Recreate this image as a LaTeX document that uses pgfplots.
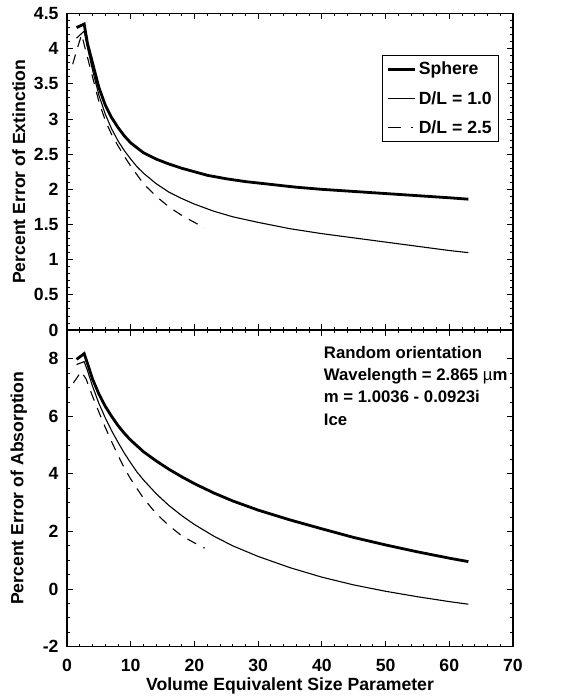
\documentclass[border=0pt]{standalone}
\usepackage{fontspec}
\setmainfont{Liberation Sans}
\usepackage{pgfplots}
\pgfplotsset{compat=1.18}

\pgfplotsset{
  panel/.style={
    width=446bp, height=316.5bp, scale only axis,
    xmin=0, xmax=70,
    xtick={0,10,...,70}, minor x tick num=4,
    major tick length=6bp, minor tick length=3bp,
    tick style={black, line width=0.8bp},
    axis line style={line width=1.6bp},
    font=\bfseries\fontsize{17.7}{21}\selectfont,
    /pgf/number format/assume math mode=true,
    yticklabel style={xshift=-5bp},
    xticklabel style={anchor=base, yshift=-25bp},
    ylabel style={at={(axis description cs:-0.108,0.5)}, anchor=center},
  },
  sphere/.style={black, line width=2.8bp},
  dl1/.style={black, line width=1.1bp},
  dl25/.style={black, line width=1.1bp, dash pattern=on 10bp off 8bp},
}

\begin{document}
\begin{tikzpicture}
\path (-67bp,-368bp) rectangle (494bp,330bp);

\begin{axis}[panel, at={(0,0)}, anchor=south west,
  ymin=0, ymax=4.5, ytick={0,0.5,...,4.5}, minor y tick num=4,
  xticklabels={},
  ylabel={Percent Error of Extinction},
  legend cell align=left,
  legend style={at={(0.969,0.870)}, anchor=north east, draw=black, line width=0.8bp,
    inner xsep=5bp, inner ysep=5bp, row sep=11bp,
    font=\bfseries\fontsize{17.7}{21}\selectfont},
  legend image code/.code={\draw[#1] (0bp,0bp) -- (27bp,0bp);},
]
\addplot[sphere] coordinates {
(1.5,4.30)(2.7,4.35)(3.2,4.08)(4,3.80)(5,3.45)(6,3.20)(7,3.02)(8,2.88)(9,2.76)(10,2.66)
(12,2.52)(14,2.43)(16,2.36)(18,2.30)(20,2.25)(22,2.20)(25,2.15)(28,2.11)(32,2.07)(36,2.03)
(40,2.00)(45,1.97)(50,1.94)(55,1.91)(60,1.88)(63,1.86)};
\addlegendentry{Sphere}
\addplot[dl1] coordinates {
(1.5,4.15)(2.7,4.25)(3.2,4.02)(4,3.70)(5,3.34)(6,3.07)(7,2.86)(8,2.69)(9,2.55)(10,2.43)
(11,2.32)(12,2.23)(14,2.08)(16,1.96)(18,1.87)(20,1.79)(23,1.69)(26,1.61)(30,1.53)(35,1.44)
(40,1.37)(45,1.31)(50,1.25)(55,1.19)(60,1.13)(63,1.10)};
\addlegendentry{D/L = 1.0}
\addplot[dl25, forget plot] coordinates {
(0.9,3.78)(1.6,4.00)(2.3,4.20)(3,3.95)(4,3.60)(5,3.25)(6,2.98)(7,2.78)(8,2.62)(9,2.47)
(10,2.33)(12,2.08)(14,1.90)(16,1.75)(18,1.63)(20,1.53)(21.6,1.45)};
\addlegendimage{black, line width=1.1bp, dash pattern=on 13bp off 10bp on 2bp off 20bp}
\addlegendentry{D/L = 2.5}
\end{axis}

\begin{axis}[panel, at={(0,0)}, anchor=north west,
  ymin=-2, ymax=9, ytick={-2,0,...,8}, minor y tick num=3,
  xlabel={Volume Equivalent Size Parameter},
  ylabel={Percent Error of Absorption},
  xlabel style={at={(axis description cs:0.5,0)}, anchor=base, yshift=-44bp},
]
\addplot[sphere] coordinates {
(1.5,7.98)(2.7,8.18)(3.2,7.85)(4,7.30)(5,6.78)(6,6.35)(7,6.00)(8,5.68)(9,5.41)(10,5.17)
(12,4.77)(14,4.45)(16,4.16)(18,3.90)(20,3.66)(23,3.34)(26,3.06)(30,2.74)(35,2.40)(40,2.09)
(45,1.79)(50,1.53)(55,1.29)(60,1.07)(63,0.95)};
\addplot[dl1] coordinates {
(1.5,7.80)(2.7,7.90)(3.2,7.60)(4,7.05)(5,6.45)(6,5.95)(7,5.50)(8,5.10)(9,4.72)(10,4.38)
(11,4.06)(12,3.79)(14,3.31)(16,2.90)(18,2.55)(20,2.24)(23,1.84)(26,1.50)(30,1.13)(35,0.74)
(40,0.41)(45,0.14)(50,-0.08)(55,-0.27)(60,-0.44)(63,-0.53)};
\addplot[dl25] coordinates {
(1.0,7.16)(1.6,7.35)(2.2,7.56)(3,7.30)(4,6.70)(5,6.15)(6,5.62)(7,5.12)(8,4.65)(9,4.20)
(10,3.82)(12,3.15)(14,2.62)(16,2.20)(18,1.85)(20,1.60)(21.6,1.42)};
\node[anchor=north west, align=left, inner sep=0pt,
  font=\bfseries\fontsize{16.8}{22.5}\selectfont] at (axis cs:40.3,8.45)
  {Random orientation\\Wavelength = 2.865 {\mdseries\textmu}m\\m = 1.0036 - 0.0923i\\Ice};
\end{axis}
\end{tikzpicture}
\end{document}
